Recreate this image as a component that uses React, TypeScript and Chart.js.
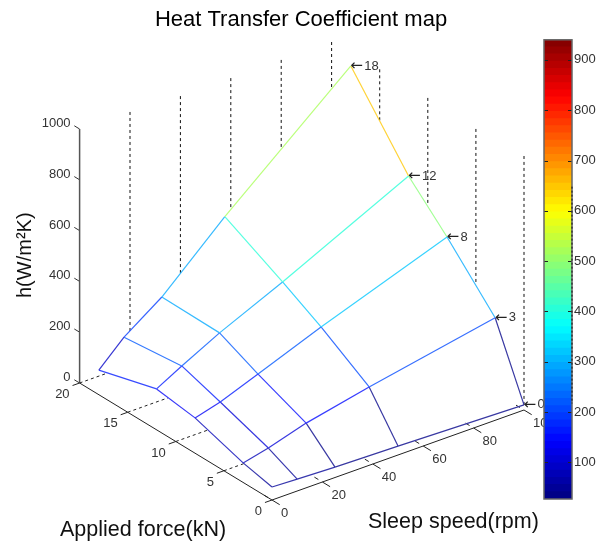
import React, { useEffect, useRef } from "react";
import { Chart, registerables } from "chart.js";

Chart.register(...registerables);

const SPEEDS = [0, 10, 25, 50, 100];
const FORCES = [0, 3, 8, 12, 18];
const H_F0 = [51, 47, 41, 35, 20];
const H_F3 = [77, 100, 145, 199, 294];
const H_F8 = [139, 166, 223, 320, 497];
const H_F12 = [161, 216, 293, 405, 645];
const H_F18 = [97, 191, 296, 524, 940];
const H_TABLE = [H_F0, H_F3, H_F8, H_F12, H_F18];

const SPEED_TICKS = [0, 20, 40, 60, 80, 100];
const FORCE_TICKS = [0, 5, 10, 15, 20];
const H_TICKS = [0, 200, 400, 600, 800, 1000];
const COLORBAR_TICKS = [100, 200, 300, 400, 500, 600, 700, 800, 900];
const COLOR_MIN = 27;
const COLOR_MAX = 940;

// Back wall grid lines: where each one emerges from behind the mesh (in h units).
const WALL_SPEEDS = [20, 40, 60, 80, 100];
const WALL_SPEED_FROM_H = [134, 291, 480, 646, 811];
const WALL_FORCES = [15, 10, 5, 0];
const WALL_FORCE_FROM_H = [795, 585, 389, 20];
// Floor grid lines: the speed at which each one goes behind the mesh.
const FLOOR_FORCES = [20, 15, 10, 5];
const FLOOR_TO_SPEED = [11, 16, 12.7, 8.3];
const COLORBAR_GHOST_RANGE = [217, 648];

const FONT = '"Liberation Sans", Arial, sans-serif';

// Orthographic view of the 3D axes
const px = (s: number, f: number) => 272 + 2.52 * s - 9.62 * f;
const py = (s: number, f: number, h: number) => 500 - 0.9 * s - 5.85 * f - 0.254 * h;
const pt = (s: number, f: number, h: number) => ({ x: px(s, f), y: py(s, f, h) });

const clamp = (v: number) => Math.max(0, Math.min(1, v));
function jetAt(t: number, soften = 0) {
  const c = (m: number) => {
    const v = 255 * clamp(1.5 - Math.abs(4 * t - m));
    return Math.round(v + (255 - v) * soften);
  };
  return `rgb(${c(3)},${c(2)},${c(1)})`;
}
function jet(h: number) {
  const n = 64;
  const i = Math.max(0, Math.min(n - 1, Math.floor(((h - COLOR_MIN) / (COLOR_MAX - COLOR_MIN)) * n)));
  return jetAt((i + 0.5) / n, 0.22);
}

function line(data: { x: number; y: number }[], color: string, width = 1, dash: number[] = []) {
  return {
    type: "scatter" as const,
    data,
    showLine: true,
    pointRadius: 0,
    borderColor: color,
    borderWidth: width,
    borderDash: dash,
    tension: 0,
  };
}

function meshLine(data: { x: number; y: number }[], hs: number[]) {
  return {
    type: "scatter" as const,
    data,
    showLine: true,
    pointRadius: 0,
    borderWidth: 1.2,
    borderColor: jet(hs[0]),
    tension: 0,
    segment: { borderColor: (c: any) => jet(hs[c.p0DataIndex]) },
  };
}

function buildDatasets() {
  const out: any[] = [];
  FORCES.forEach((f, i) => {
    out.push(meshLine(SPEEDS.map((s, j) => pt(s, f, H_TABLE[i][j])), H_TABLE[i]));
  });
  SPEEDS.forEach((s, j) => {
    const hs = FORCES.map((_, i) => H_TABLE[i][j]);
    out.push(meshLine(FORCES.map((f, i) => pt(s, f, hs[i])), hs));
  });
  WALL_SPEEDS.forEach((s, i) =>
    out.push(line([pt(s, 20, WALL_SPEED_FROM_H[i]), pt(s, 20, 1000)], "#111", 1, [3, 3]))
  );
  WALL_FORCES.forEach((f, i) =>
    out.push(line([pt(100, f, WALL_FORCE_FROM_H[i]), pt(100, f, 1000)], "#111", 1, [3, 3]))
  );
  FLOOR_FORCES.forEach((f, i) =>
    out.push(line([pt(0, f, 0), pt(FLOOR_TO_SPEED[i], f, 0)], "#222", 1, [3, 3]))
  );
  out.push(line([pt(0, 0, 0), pt(100, 0, 0)], "#222"));
  out.push(line([pt(0, 0, 0), pt(0, 20, 0)], "#222"));
  out.push(line([pt(0, 20, 0), pt(0, 20, 1000)], "#555", 1.5));
  SPEED_TICKS.forEach((s) => {
    out.push(line([pt(s, -0.8, 0), pt(s, 0, 0)], "#222"));
    out.push(line([pt(s, 0.42, 0), pt(s, 0.83, 0)], "#222"));
  });
  FORCE_TICKS.forEach((f) => out.push(line([pt(0, f, 0), pt(-2.8, f, 0)], "#222")));
  H_TICKS.forEach((h) => out.push(line([pt(0, 20, h), pt(0, 20.55, h)], "#333")));
  return out;
}

const labelPlugin = {
  id: "mapText",
  afterDatasetsDraw(chart: any) {
    const { ctx, scales } = chart;
    const X = (v: number) => scales.x.getPixelForValue(v);
    const Y = (v: number) => scales.y.getPixelForValue(v);
    const text = (
      t: string,
      x: number,
      y: number,
      size: number,
      align: CanvasTextAlign,
      color = "#333",
      family = FONT
    ) => {
      ctx.font = `${size}px ${family}`;
      ctx.fillStyle = color;
      ctx.textAlign = align;
      ctx.textBaseline = "middle";
      ctx.fillText(t, x, y);
    };
    ctx.save();
    H_TICKS.forEach((h) => text(String(h), X(px(0, 20) - 9), Y(py(0, 20, h) - 5.5), 13, "right"));
    FORCE_TICKS.forEach((f) => text(String(f), X(px(0, f) - 10), Y(py(0, f, 0) + 11.5), 13, "right"));
    SPEED_TICKS.forEach((s) => text(String(s), X(px(s, 0) + 9), Y(py(s, 0, 0) + 13.5), 13, "left"));
    FORCES.forEach((f, i) => {
      const p = pt(100, f, H_TABLE[i][4]);
      text("\u2190", X(p.x - 0.5), Y(p.y), 15, "left", "#222", '"DejaVu Sans"');
      text(String(f), X(p.x + 13.5), Y(p.y), 13, "left", "#333");
    });
    text("Heat Transfer Coefficient map", X(301), Y(20), 22, "center", "#000");
    text("Applied force(kN)", X(60), Y(530), 21.5, "left", "#111");
    text("Sleep speed(rpm)", X(368), Y(522), 21.5, "left", "#111");
    ctx.translate(X(25), Y(298));
    ctx.rotate(-Math.PI / 2);
    text("h(W/m\u00B2K)", 0, 0, 20, "left", "#111");
    ctx.restore();
  },
};

const colorbarFrame = {
  id: "colorbarFrame",
  afterDatasetsDraw(chart: any) {
    const { ctx, chartArea: a, scales } = chart;
    ctx.save();
    ctx.strokeStyle = "#222";
    ctx.lineWidth = 1;
    COLORBAR_TICKS.forEach((v) => {
      const y = Math.round(scales.y.getPixelForValue(v)) + 0.5;
      ctx.beginPath();
      ctx.moveTo(a.left, y);
      ctx.lineTo(a.left + 4, y);
      ctx.moveTo(a.right - 4, y);
      ctx.lineTo(a.right, y);
      ctx.stroke();
    });
    ctx.strokeStyle = "#666";
    ctx.lineWidth = 1.5;
    ctx.strokeRect(a.left, a.top, a.right - a.left, a.bottom - a.top);
    ctx.strokeStyle = "#111";
    ctx.lineWidth = 1;
    ctx.setLineDash([2, 2]);
    ctx.beginPath();
    ctx.moveTo(a.right, scales.y.getPixelForValue(COLORBAR_GHOST_RANGE[1]));
    ctx.lineTo(a.right, scales.y.getPixelForValue(COLORBAR_GHOST_RANGE[0]));
    ctx.stroke();
    ctx.restore();
  },
};

function buildBands() {
  const n = 64;
  const step = (COLOR_MAX - COLOR_MIN) / n;
  const bands: any[] = [];
  for (let i = 0; i < n; i++) {
    const lo = COLOR_MIN + i * step;
    bands.push({
      data: [[lo, lo + step + 0.5]],
      backgroundColor: jetAt((i + 0.5) / n),
      borderWidth: 0,
      barPercentage: 1,
      categoryPercentage: 1,
    });
  }
  return bands;
}

export default function App() {
  const mapRef = useRef<HTMLCanvasElement>(null);
  const barRef = useRef<HTMLCanvasElement>(null);

  useEffect(() => {
    const map = new Chart(mapRef.current as HTMLCanvasElement, {
      type: "scatter",
      data: { datasets: buildDatasets() },
      options: {
        animation: false,
        responsive: false,
        layout: { padding: 0 },
        plugins: { legend: { display: false }, tooltip: { enabled: false } },
        scales: {
          x: { type: "linear", min: 0, max: 598, display: false },
          y: { type: "linear", min: 0, max: 548, reverse: true, display: false },
        },
      },
      plugins: [labelPlugin],
    } as any);
    const bar = new Chart(barRef.current as HTMLCanvasElement, {
      type: "bar",
      data: { labels: ["h"], datasets: buildBands() },
      options: {
        animation: false,
        responsive: false,
        layout: { padding: { left: 4, top: 8, bottom: 11, right: 0 } },
        plugins: { legend: { display: false }, tooltip: { enabled: false } },
        scales: {
          x: { display: false, stacked: true },
          y: {
            position: "right",
            min: COLOR_MIN,
            max: COLOR_MAX,
            grid: { display: false, drawTicks: false },
            border: { display: false },
            afterBuildTicks: (s: any) => {
              s.ticks = COLORBAR_TICKS.map((value) => ({ value }));
            },
            afterFit: (s: any) => {
              s.width = 26;
            },
            ticks: {
              padding: 2,
              autoSkip: false,
              color: "#333",
              font: { family: FONT, size: 13 },
              callback: (v: any) => String(v),
            },
          },
        },
      },
      plugins: [colorbarFrame],
    } as any);
    return () => {
      map.destroy();
      bar.destroy();
    };
  }, []);

  return (
    <div style={{ position: "fixed", left: 0, top: 0, width: 598, height: 548, background: "#fff", overflow: "hidden" }}>
      <canvas ref={mapRef} width={598} height={548} style={{ position: "absolute", left: 0, top: 0 }} />
      <canvas ref={barRef} width={58} height={480} style={{ position: "absolute", left: 540, top: 30 }} />
    </div>
  );
}
